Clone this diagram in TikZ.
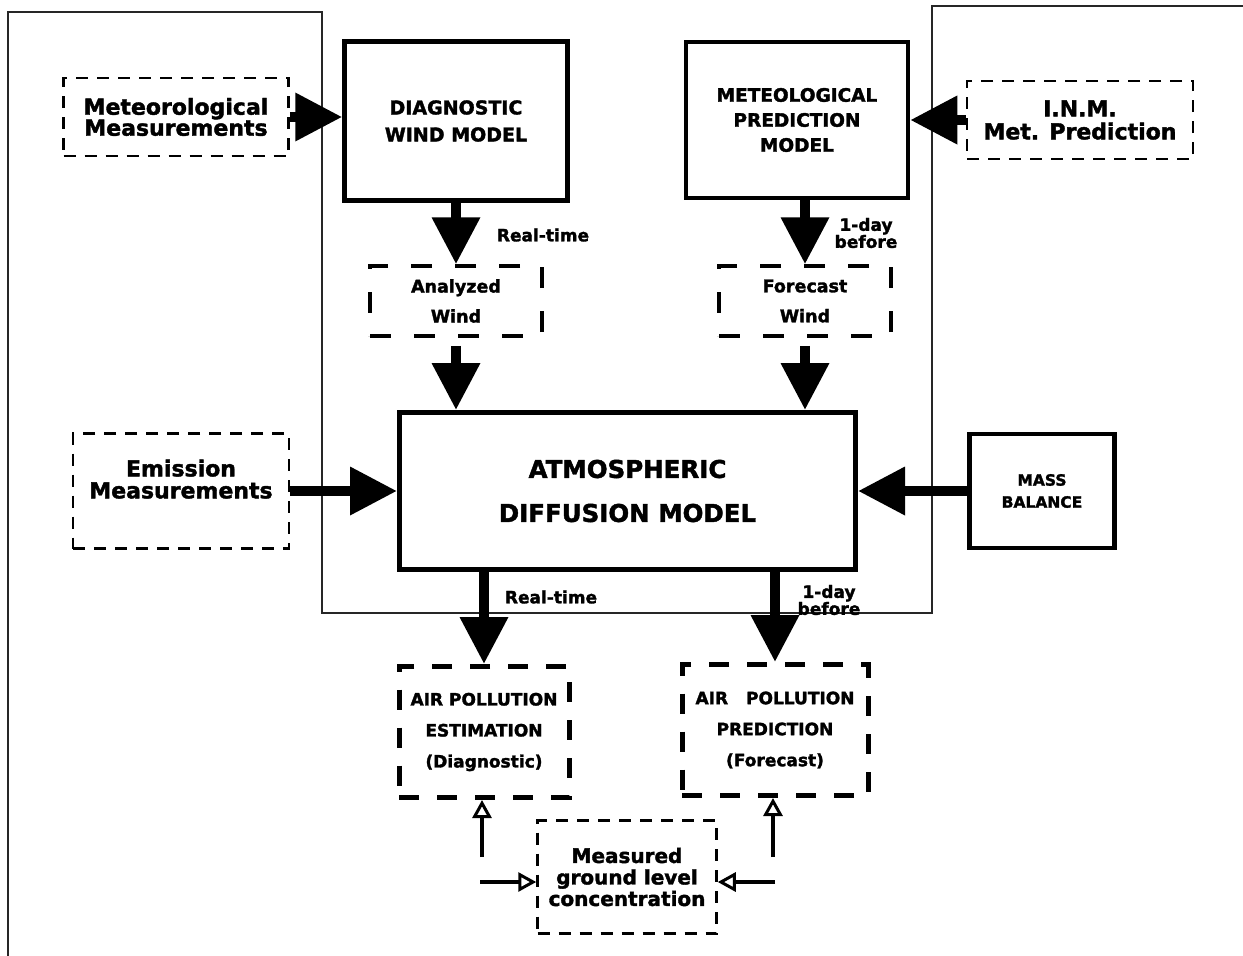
\documentclass[tikz,border=0pt]{standalone}
\usepackage{fontspec}
\setmainfont{DejaVu Sans}[BoldFeatures={FakeBold=1.8}]
\usetikzlibrary{arrows.meta}

\newcommand{\boxfont}[2]{\fontsize{#1}{#2}\selectfont\bfseries}

\tikzset{
	model/.style={draw, line width=4.5pt, align=center, inner sep=0pt},
	dashbox/.style={draw, line width=2.5pt, dash pattern=on 12pt off 9pt, align=center, inner sep=0pt},
	winddash/.style={draw, line width=3.5pt, dash pattern=on 21pt off 23pt, align=center, inner sep=0pt},
	resultdash/.style={draw, line width=5pt, dash pattern=on 20pt off 18pt, align=center, inner sep=0pt},
	bigarrow/.style={line width=10pt, -{Triangle[length=47pt,width=46pt]}},
	openarrow/.style={line width=4.5pt, -{Triangle[open,length=18pt,width=19pt,line width=3pt]}},
	tag/.style={align=center, inner sep=0pt, font=\boxfont{17}{17}},
}

\begin{document}
\begin{tikzpicture}[x=1pt, y=-1pt]
	\useasboundingbox (0,0) rectangle (1243,956);
	% page frame behind everything
	\draw[line width=1.3pt, black!85] (8,956) -- (8,12) -- (322,12) -- (322,613) -- (932,613) -- (932,6) -- (1243,6);

	% inputs and models
	\node[dashbox, minimum width=225pt, minimum height=78pt, font=\boxfont{22}{21}] (metmeas) at (176,117) {Meteorological\\Measurements};
	\node[model, minimum width=223pt, minimum height=159pt, font=\boxfont{19}{27}] (dwm) at (456,121) {DIAGNOSTIC\\WIND MODEL};
	\node[model, minimum width=222pt, minimum height=156pt, font=\boxfont{18.5}{25}] (mpm) at (797,120) {METEOLOGICAL\\PREDICTION\\MODEL};
	\node[dashbox, minimum width=226pt, minimum height=78pt, font=\boxfont{22}{23}] (inm) at (1080,120) {I.N.M.\\Met. Prediction};

	\node[winddash, minimum width=172pt, minimum height=70pt, font=\boxfont{17.5}{30}] (analyzed) at (456,301) {Analyzed\\Wind};
	\node[winddash, minimum width=172pt, minimum height=70pt, font=\boxfont{17.5}{30}] (forecast) at (805,301) {Forecast\\Wind};

	\node[model, line width=5pt, minimum width=456pt, minimum height=157pt, font=\boxfont{24.5}{44}] (adm) at (627.5,491) {ATMOSPHERIC\\DIFFUSION MODEL};
	\node[dashbox, minimum width=216pt, minimum height=115pt, text depth=24pt, font=\boxfont{22}{22}] (emission) at (181,491) {Emission\\Measurements};
	\node[model, line width=4.3pt, minimum width=145pt, minimum height=114pt, font=\boxfont{15.5}{22}] (mass) at (1042,491) {MASS\\BALANCE};

	% outputs
	\node[resultdash, minimum width=170pt, minimum height=131pt, font=\boxfont{17}{31}] (ape) at (484,732) {AIR POLLUTION\\ESTIMATION\\(Diagnostic)};
	\node[resultdash, minimum width=186pt, minimum height=131pt, font=\boxfont{17}{31}] (app) at (775,730) {AIR\hspace{18pt}POLLUTION\\PREDICTION\\(Forecast)};
	\node[dashbox, minimum width=179pt, minimum height=113pt, font=\boxfont{20}{21.5}] (meas) at (627,877) {Measured\\ground level\\concentration};

	% labels on the arrows
	\node[tag] (rt1) at (543,235) {Real-time};
	\node[tag] (day1) at (866,233) {1-day\\before};
	\node[tag] (rt2) at (551,597) {Real-time};
	\node[tag] (day2) at (829,600) {1-day\\before};

	% arrows
	\draw[bigarrow] (metmeas.east) -- (metmeas.east -| dwm.west);
	\draw[bigarrow] (inm.west) -- (inm.west -| mpm.east);
	\draw[bigarrow] (analyzed.north |- dwm.south) -- (analyzed.north);
	\draw[bigarrow] (forecast.north |- mpm.south) -- (forecast.north);
	\draw[bigarrow, shorten <=8pt] (analyzed.south) -- (analyzed.south |- adm.north);
	\draw[bigarrow, shorten <=8pt] (forecast.south) -- (forecast.south |- adm.north);
	\draw[bigarrow] (emission.east) -- (emission.east -| adm.west);
	\draw[bigarrow] (mass.west) -- (mass.west -| adm.east);
	\draw[bigarrow] (ape.north |- adm.south) -- (ape.north);
	\draw[bigarrow] (app.north |- adm.south) -- (app.north);

	% measured data back to the results
	\coordinate (lup) at (482,857);
	\coordinate (lin) at (480,882);
	\coordinate (rup) at (773,857);
	\coordinate (rin) at (775,882);
	\draw[openarrow] (lup) -- (lup |- ape.south);
	\draw[openarrow] (rup) -- (rup |- app.south);
	\draw[openarrow] (lin) -- (lin -| meas.west);
	\draw[openarrow] (rin) -- (rin -| meas.east);
\end{tikzpicture}
\end{document}
